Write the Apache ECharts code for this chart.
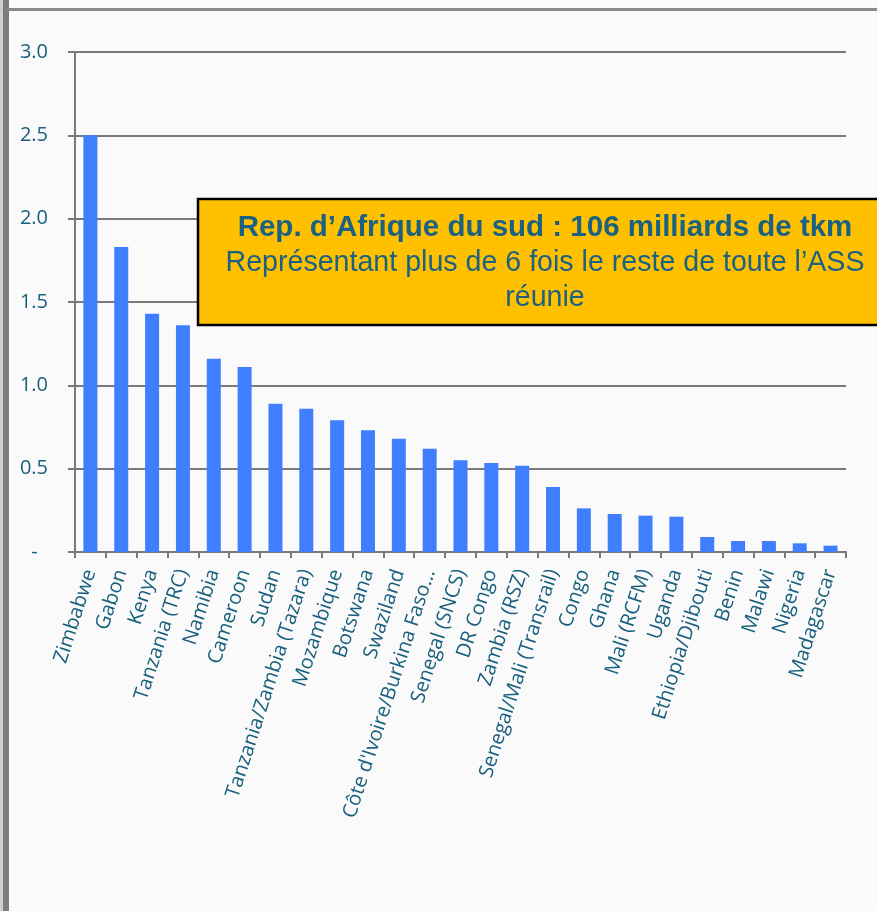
<!DOCTYPE html>
<html>

<head>
    <meta charset="utf-8">
    <title>ECharts</title>
    <script src="https://cdn.jsdelivr.net/npm/echarts@6/dist/echarts.min.js"></script>
    <style>
        body { margin: 0; background: #fafafa; }
    </style>
</head>

<body>
    <div id="main" style="width: 877px;height:911px;"></div>
    <script type="text/javascript">
        // pays / réseaux
        const countries = [
            'Zimbabwe', 'Gabon', 'Kenya', 'Tanzania (TRC)', 'Namibia', 'Cameroon', 'Sudan',
            'Tanzania/Zambia (Tazara)', 'Mozambique', 'Botswana', 'Swaziland',
            'Côte d\'Ivoire/Burkina Faso…', 'Senegal (SNCS)', 'DR Congo', 'Zambia (RSZ)',
            'Senegal/Mali (Transrail)', 'Congo', 'Ghana', 'Mali (RCFM)', 'Uganda',
            'Ethiopia/Djibouti', 'Benin', 'Malawi', 'Nigeria', 'Madagascar'
        ]
        // milliards de tkm
        const tkm = [
            2.50, 1.83, 1.43, 1.36, 1.16, 1.11, 0.89,
            0.86, 0.79, 0.73, 0.68,
            0.62, 0.55, 0.534, 0.518,
            0.39, 0.262, 0.228, 0.218, 0.212,
            0.09, 0.066, 0.066, 0.052, 0.038
        ]
        const yTicks = [0, 0.5, 1.0, 1.5, 2.0, 2.5, 3.0]

        const teal = '#175f7c'
        const boxText = '#1b6282'
        var myChart = echarts.init(document.getElementById('main'))
        var option = {
            backgroundColor: '#fafafa',
            animation: false,
            grid: { left: 75, right: 31, top: 52, bottom: 359 },
            xAxis: {
                type: 'category',
                data: countries,
                axisLine: { lineStyle: { color: '#7a7a7a', width: 2 } },
                axisTick: { show: true, length: 6, lineStyle: { color: '#7a7a7a', width: 2 } },
                axisLabel: {
                    rotate: 72, interval: 0, margin: 18,
                    color: teal, fontFamily: 'Open Sans', fontSize: 20
                }
            },
            yAxis: {
                type: 'value',
                min: 0, max: 3, interval: 0.5,
                axisLine: { show: true, lineStyle: { color: '#7a7a7a', width: 2 } },
                axisTick: { show: true, length: 7, lineStyle: { color: '#7a7a7a', width: 2 } },
                splitLine: { lineStyle: { color: '#7a7a7a', width: 2 } },
                axisLabel: {
                    margin: 27, color: teal, fontFamily: 'Open Sans', fontSize: 20,
                    formatter: v => v === yTicks[0] ? '-  ' : v.toFixed(1)
                }
            },
            series: [{
                type: 'bar',
                data: tkm,
                barWidth: 14,
                itemStyle: { color: '#3f7fff' }
            }],
            graphic: [
                // cadre
                { type: 'rect', z: 100, shape: { x: 3, y: 0, width: 6, height: 911 }, style: { fill: '#7d7d7d' } },
                { type: 'rect', z: 100, shape: { x: 0, y: 0, width: 3, height: 911 }, style: { fill: '#cfcfcf' } },
                { type: 'rect', z: 100, shape: { x: 7, y: 8, width: 870, height: 3 }, style: { fill: '#8a8a8a' } },
                // encadré
                { type: 'rect', z: 100, shape: { x: 198, y: 199, width: 700, height: 126 },
                  style: { fill: '#ffc000', stroke: '#000', lineWidth: 2.5 } },
                { type: 'text', z: 101, x: 545, y: 228,
                  style: { text: 'Rep. d\u2019Afrique du sud : 106 milliards de tkm', fill: boxText,
                           fontFamily: 'Liberation Sans', fontWeight: 'bold', fontSize: 29.5,
                           align: 'center', verticalAlign: 'middle' } },
                { type: 'text', z: 101, x: 545, y: 263,
                  style: { text: 'Représentant plus de 6 fois le reste de toute l\u2019ASS', fill: boxText,
                           fontFamily: 'Liberation Sans', fontSize: 28.6,
                           align: 'center', verticalAlign: 'middle' } },
                { type: 'text', z: 101, x: 545, y: 298,
                  style: { text: 'réunie', fill: boxText,
                           fontFamily: 'Liberation Sans', fontSize: 28.6,
                           align: 'center', verticalAlign: 'middle' } }
            ]
        }
        myChart.setOption(option)
    </script>
</body>

</html>
